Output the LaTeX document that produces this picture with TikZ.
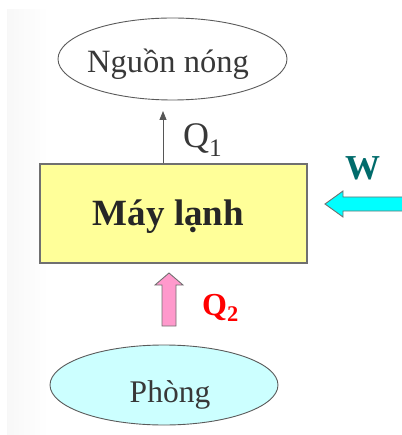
\documentclass[tikz,border=0pt]{standalone}
\usepackage{fontspec}
\setmainfont{Liberation Serif}
\usetikzlibrary{shapes.geometric,arrows.meta}
\definecolor{inkgray}{HTML}{383838}
\definecolor{boxfill}{HTML}{FFFF99}
\definecolor{roomfill}{HTML}{CCFFFF}
\definecolor{workteal}{HTML}{006B6B}
\definecolor{workcyan}{HTML}{00FFFF}
\definecolor{heatpink}{HTML}{FF99CC}
\definecolor{edgegray}{HTML}{707070}
\tikzset{
  reservoir/.style={ellipse, draw=edgegray!80!black, line width=0.9pt, inner sep=0pt},
  machine/.style={rectangle, draw=edgegray, line width=1.1pt, fill=boxfill, inner sep=0pt},
  blockarrow/.style={draw=edgegray, line width=0.9pt, line join=miter},
  label/.style={text=inkgray, inner sep=0pt},
}
\begin{document}
\begin{tikzpicture}[x=1pt, y=-1pt]
  \useasboundingbox (0,0) rectangle (401,435);
  % faint shaded strip along the left margin
  \shade[left color=black!3, right color=white] (7,10) rectangle (48,435);

  % hot reservoir and the cooled room
  \node[reservoir, minimum width=229pt, minimum height=82pt] (hot) at (172.5,59) {};
  \node[label, anchor=base, font=\fontsize{32.5}{32.5}\selectfont] (hottext) at (168,73) {Nguồn nóng};
  \node[reservoir, fill=roomfill, minimum width=228pt, minimum height=80pt] (room) at (164,385) {};
  \node[label, anchor=base, font=\fontsize{31.5}{31.5}\selectfont] (roomtext) at (170,402) {Phòng};

  % the refrigerator
  \node[machine, minimum width=267pt, minimum height=99pt] (fridge) at (173.5,213.5) {};
  \node[label, text=black!85, anchor=base, font=\fontsize{37}{37}\selectfont\bfseries] (fridgetext) at (168.5,225) {Máy lạnh};

  % heat rejected to the hot reservoir
  \coordinate (qtip) at (163,111);
  \draw[inkgray!85, line width=0.9pt, -{Triangle[length=9pt, width=7pt]}] (fridge.north -| qtip) -- (qtip);
  \node[label, anchor=base west, font=\fontsize{36}{36}\selectfont] (qone) at (183,148) {Q\textsubscript{1}};

  % work supplied
  \draw[blockarrow, fill=workcyan] (325,204) -- (343,191) -- (343,197) -- (403,197)
        -- (403,211) -- (343,211) -- (343,217) -- cycle;
  \node[label, text=workteal, anchor=base, font=\fontsize{35}{35}\selectfont\bfseries] (work) at (362.5,180) {W};

  % heat drawn from the room
  \draw[blockarrow, fill=heatpink] (169,273) -- (183,285) -- (176,285) -- (176,326)
        -- (162,326) -- (162,285) -- (155,285) -- cycle;
  \node[label, text=red, anchor=base west, font=\fontsize{32}{32}\selectfont\bfseries] (qtwo) at (202,315) {Q\textsubscript{2}};
\end{tikzpicture}
\end{document}
